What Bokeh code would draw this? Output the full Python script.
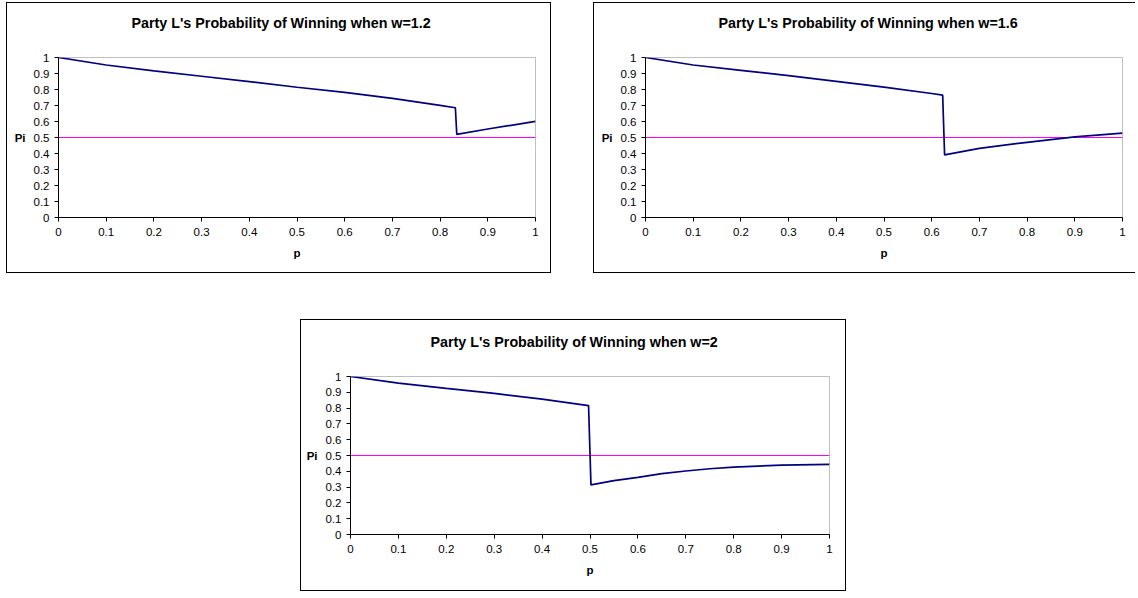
from bokeh.plotting import figure
from bokeh.models import Range1d, FixedTicker, Spacer, Title
from bokeh.layouts import column, row
from bokeh.embed import file_html
from bokeh.resources import INLINE

# ---- data ----
tick_vals = [0, 0.1, 0.2, 0.3, 0.4, 0.5, 0.6, 0.7, 0.8, 0.9, 1]
tick_labels = ["0", "0.1", "0.2", "0.3", "0.4", "0.5", "0.6", "0.7", "0.8", "0.9", "1"]

titles = ["Party L's Probability of Winning when w=1.2",
          "Party L's Probability of Winning when w=1.6",
          "Party L's Probability of Winning when w=2"]

p_w12 = [0, 0.1, 0.2, 0.3, 0.4, 0.5, 0.6, 0.7, 0.8, 0.832, 0.835, 0.9, 1.0]
pi_w12 = [1.0, 0.953, 0.916, 0.883, 0.849, 0.814, 0.782, 0.745, 0.701, 0.686, 0.519, 0.553, 0.601]

p_w16 = [0, 0.1, 0.2, 0.3, 0.4, 0.5, 0.6, 0.623, 0.627, 0.7, 0.8, 0.9, 1.0]
pi_w16 = [1.0, 0.953, 0.920, 0.887, 0.851, 0.815, 0.775, 0.765, 0.391, 0.432, 0.470, 0.504, 0.527]

p_w2 = [0, 0.1, 0.2, 0.3, 0.4, 0.497, 0.502, 0.55, 0.6, 0.65, 0.7, 0.75, 0.8, 0.9, 1.0]
pi_w2 = [1.0, 0.958, 0.925, 0.893, 0.857, 0.816, 0.314, 0.341, 0.362, 0.385, 0.402, 0.416, 0.427, 0.439, 0.444]

ref_p = [0, 1]
ref_pi = [0.5, 0.5]

FONT = "Liberation Sans"


def make_chart(title, xs, ys, width, height, ml, mr, mt, mb, styles, title_off):
    p = figure(width=width, height=height, output_backend="svg", toolbar_location=None,
               x_range=Range1d(0, 1), y_range=Range1d(0, 1),
               min_border_left=ml, min_border_right=mr, min_border_top=mt, min_border_bottom=mb,
               background_fill_color="white", border_fill_color="white",
               outline_line_color="#BFBFBF", outline_line_width=1, styles=styles)
    # filler panel between the title and the plot area
    p.add_layout(Title(text=" ", text_font_size="14.3px", standoff=7), "above")
    p.title.text = title
    p.title.align = "left"
    p.title.offset = title_off
    p.title.text_font = FONT
    p.title.text_font_size = "14.3px"
    p.title.text_font_style = "bold"
    p.title.text_color = "black"
    p.title.standoff = 4
    p.xgrid.visible = False
    p.ygrid.visible = False
    for ax in (p.xaxis[0], p.yaxis[0]):
        ax.ticker = FixedTicker(ticks=tick_vals)
        ax.major_label_overrides = dict(zip(tick_vals, tick_labels))
        ax.minor_tick_line_color = None
        ax.major_tick_in = 0
        ax.major_tick_out = 4
        ax.axis_line_color = "black"
        ax.major_tick_line_color = "black"
        ax.major_label_text_font = FONT
        ax.major_label_text_font_size = "11.5px"
        ax.major_label_text_color = "black"
        ax.axis_label_text_font = FONT
        ax.axis_label_text_font_size = "11.5px"
        ax.axis_label_text_font_style = "bold"
        ax.axis_label_text_color = "black"
    p.xaxis.axis_label = "p"
    p.xaxis.major_label_standoff = 6
    p.xaxis.axis_label_standoff = 8
    p.yaxis.axis_label = "Pi"
    p.yaxis.axis_label_orientation = "horizontal"
    p.yaxis.major_label_standoff = 5
    p.yaxis.axis_label_standoff = 5
    p.line(ref_p, ref_pi, line_color="#FF00FF", line_width=1)
    p.line(xs, ys, line_color="#000080", line_width=1.7)
    return p


box = {"border": "1px solid black"}
box_open = {"border": "1px solid black", "border-right": "none"}

p1 = make_chart(titles[0], p_w12, pi_w12, 545, 271, 51, 17, 54, 57, box, 73)
p2 = make_chart(titles[1], p_w16, pi_w16, 542, 271, 51, 14, 54, 57, box_open, 73)
p3 = make_chart(titles[2], p_w2, pi_w2, 546, 272, 49, 18, 56, 58, box, 80)

layout = column(
    Spacer(height=2),
    row(Spacer(width=6), p1, Spacer(width=42), p2),
    Spacer(height=46),
    row(Spacer(width=300), p3),
)

open("out.html", "w").write(file_html(layout, INLINE))
